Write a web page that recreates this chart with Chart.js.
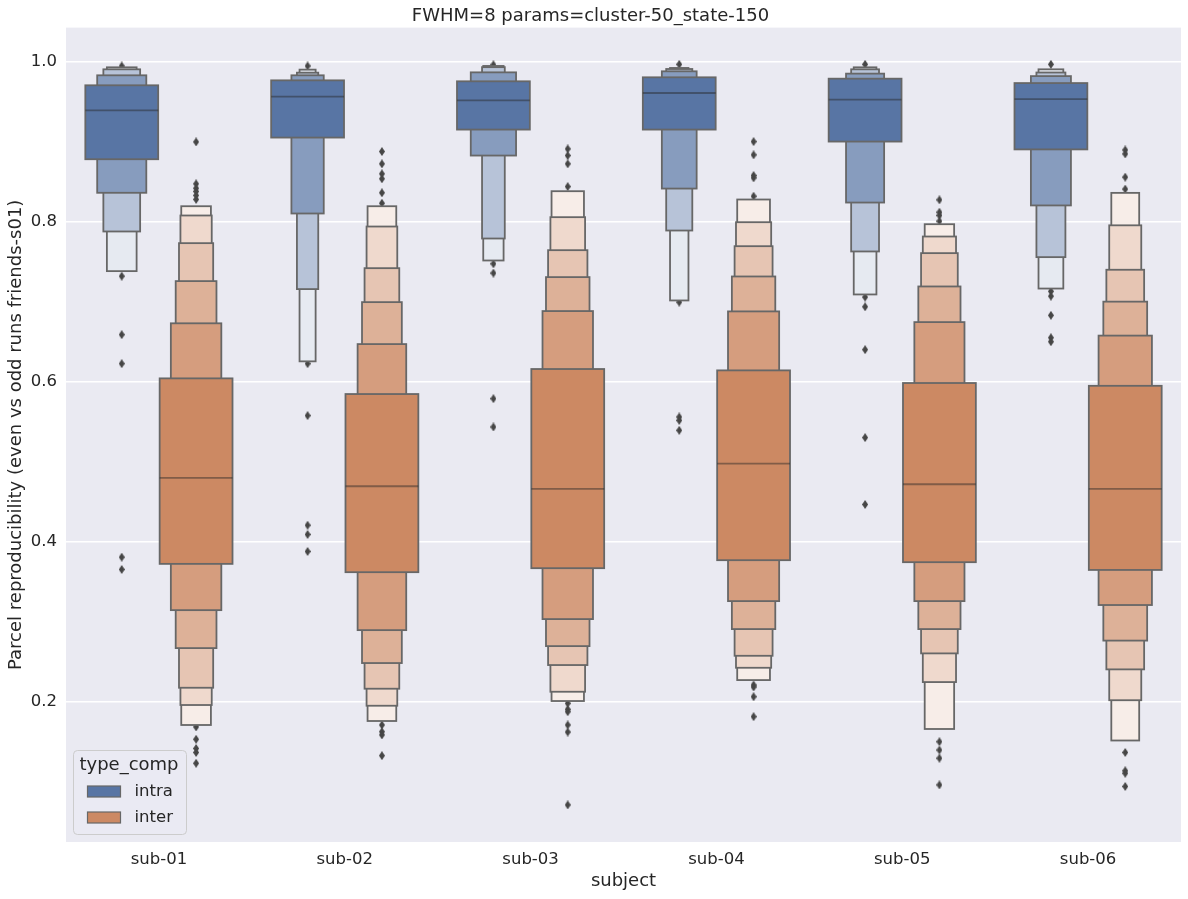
<!DOCTYPE html>
<html>
<head>
<meta charset="utf-8">
<script src="https://cdn.jsdelivr.net/npm/chart.js@4.4.0/dist/chart.umd.min.js"></script>
<style>
  html, body { margin: 0; padding: 0; background: #ffffff; }
</style>
</head>
<body>
<canvas id="chart" width="1188" height="899"></canvas>
<script>
const subjects = ['sub-01', 'sub-02', 'sub-03', 'sub-04', 'sub-05', 'sub-06'];
const hueNames = ['intra', 'inter'];
const yTicks = [0.2, 0.4, 0.6, 0.8, 1.0];

// letter values, innermost box first
const intraMedian = [0.9395, 0.9566, 0.952, 0.9612, 0.9529, 0.9534];
const intraLower = [
  [0.8783, 0.8363, 0.7879, 0.7383],
  [0.9054, 0.8104, 0.7158, 0.6254],
  [0.9154, 0.8829, 0.7791, 0.7516],
  [0.9154, 0.8416, 0.7891, 0.7016],
  [0.9004, 0.8241, 0.7629, 0.7091],
  [0.8906, 0.8205, 0.7558, 0.7165]
];
const intraUpper = [
  [0.9708, 0.9833, 0.9908, 0.9933],
  [0.977, 0.9833, 0.9866, 0.9904],
  [0.9758, 0.987, 0.9935, 0.995],
  [0.9808, 0.9883, 0.9912, 0.9925],
  [0.9791, 0.9854, 0.9908, 0.9933],
  [0.9736, 0.9823, 0.9868, 0.9908]
];
const intraOutliers = [
  [0.995, 0.732, 0.6588, 0.6225, 0.3804, 0.365],
  [0.995, 0.6225, 0.5575, 0.4204, 0.4088, 0.3875],
  [0.9965, 0.7475, 0.7358, 0.5787, 0.5433],
  [0.997, 0.6995, 0.5558, 0.5515, 0.5391],
  [0.997, 0.7058, 0.6937, 0.64, 0.53, 0.4463],
  [0.997, 0.713, 0.707, 0.683, 0.655, 0.65]
];

const interMedian = [0.4795, 0.4691, 0.4658, 0.4975, 0.4716, 0.4659];
const interLower = [
  [0.372, 0.3141, 0.2666, 0.217, 0.1954, 0.1704],
  [0.3616, 0.2891, 0.2479, 0.2158, 0.1945, 0.1754],
  [0.3666, 0.3029, 0.2691, 0.2454, 0.212, 0.2004],
  [0.3766, 0.3254, 0.2904, 0.257, 0.242, 0.2266],
  [0.3741, 0.3254, 0.2904, 0.26, 0.2241, 0.1654],
  [0.3644, 0.3205, 0.276, 0.24, 0.2014, 0.151]
];
const interUpper = [
  [0.6041, 0.673, 0.7258, 0.7733, 0.8079, 0.8195],
  [0.5845, 0.647, 0.6995, 0.742, 0.7941, 0.8195],
  [0.6158, 0.6883, 0.7308, 0.7645, 0.8058, 0.8383],
  [0.6141, 0.6879, 0.7316, 0.7695, 0.7995, 0.8279],
  [0.5983, 0.6745, 0.7191, 0.7608, 0.7816, 0.797],
  [0.5948, 0.6576, 0.7001, 0.74, 0.7956, 0.8362]
];
const interOutliers = [
  [0.9, 0.8475, 0.842, 0.838, 0.833, 0.828, 0.168, 0.1525, 0.141, 0.136, 0.1225],
  [0.8879, 0.8725, 0.86, 0.8538, 0.8363, 0.8233, 0.1704, 0.162, 0.158, 0.132],
  [0.8912, 0.8829, 0.8725, 0.8441, 0.1975, 0.19, 0.187, 0.1704, 0.1616, 0.0704],
  [0.9004, 0.8838, 0.8579, 0.855, 0.832, 0.2204, 0.218, 0.2058, 0.1808],
  [0.8275, 0.812, 0.808, 0.8008, 0.1495, 0.1391, 0.1288, 0.0954],
  [0.8899, 0.885, 0.8559, 0.8409, 0.136, 0.1131, 0.11, 0.0935]
];

const HUE_OFFSET = [-0.2, 0.2];
const HUE_WIDTH = 0.392;
const BASE_RGB = [[88, 117, 164], [204, 137, 99]];
const EDGE = '#676767';
const FLIER = '#464646';
const TEXT = '#262626';
const FONT = "'DejaVu Sans', sans-serif";

function tint(rgb, t) {
  return 'rgb(' + rgb.map(c => Math.round(c + (255 - c) * t)).join(',') + ')';
}

// thin diamond marker like matplotlib 'd'
function makeDiamond() {
  const c = document.createElement('canvas');
  c.width = 6;
  c.height = 9;
  const g = c.getContext('2d');
  g.fillStyle = FLIER;
  g.beginPath();
  g.moveTo(3, 0);
  g.lineTo(6, 4.5);
  g.lineTo(3, 9);
  g.lineTo(0, 4.5);
  g.closePath();
  g.fill();
  return c;
}
const diamond = makeDiamond();

function outlierPoints(list, h) {
  const pts = [];
  list.forEach((vals, i) => {
    vals.forEach(v => pts.push({ x: i + HUE_OFFSET[h], y: v }));
  });
  return pts;
}

function drawLetterValues(ctx, xs, ys, center, lower, upper, median, base) {
  const k = lower.length;
  // box widths follow the "area" rule, outermost box is i = 0
  const raw = [];
  for (let i = 0; i < k; i++) {
    const j = k - 1 - i;
    raw.push((1 - Math.pow(2, -k + i - 2)) / (upper[j] - lower[j]));
  }
  const maxW = Math.max(...raw);
  let innerX0 = 0, innerX1 = 0;
  for (let i = 0; i < k; i++) {
    const j = k - 1 - i;
    const half = HUE_WIDTH * raw[i] / maxW / 2;
    const x0 = xs.getPixelForValue(center - half);
    const x1 = xs.getPixelForValue(center + half);
    const y0 = ys.getPixelForValue(upper[j]);
    const y1 = ys.getPixelForValue(lower[j]);
    ctx.fillStyle = k > 1 ? tint(base, 0.85 * j / (k - 1)) : tint(base, 0);
    ctx.fillRect(x0, y0, x1 - x0, y1 - y0);
    ctx.strokeRect(x0, y0, x1 - x0, y1 - y0);
    innerX0 = x0;
    innerX1 = x1;
  }
  const my = ys.getPixelForValue(median);
  ctx.save();
  ctx.strokeStyle = 'rgba(38, 38, 38, 0.45)';
  ctx.beginPath();
  ctx.moveTo(innerX0, my);
  ctx.lineTo(innerX1, my);
  ctx.stroke();
  ctx.restore();
}

const boxenPlugin = {
  id: 'boxen',
  beforeDraw(chart) {
    const { ctx, chartArea: a } = chart;
    ctx.save();
    ctx.fillStyle = '#eaeaf2';
    ctx.fillRect(a.left, a.top, a.right - a.left, a.bottom - a.top);
    ctx.restore();
  },
  afterDatasetsDraw(chart) {
    const { ctx } = chart;
    const xs = chart.scales.x;
    const ys = chart.scales.y;
    ctx.save();
    ctx.strokeStyle = EDGE;
    ctx.lineWidth = 1.8;
    subjects.forEach((s, i) => {
      drawLetterValues(ctx, xs, ys, i + HUE_OFFSET[0], intraLower[i], intraUpper[i], intraMedian[i], BASE_RGB[0]);
      drawLetterValues(ctx, xs, ys, i + HUE_OFFSET[1], interLower[i], interUpper[i], interMedian[i], BASE_RGB[1]);
    });
    ctx.restore();
  },
  afterDraw(chart) {
    // legend inside the axes, lower left
    const { ctx, chartArea: a } = chart;
    const left = a.left + 7.5;
    const top = a.bottom - 91.5;
    const w = 113, h = 84;
    ctx.save();
    ctx.beginPath();
    ctx.roundRect(left, top, w, h, 4);
    ctx.fillStyle = 'rgba(234, 234, 242, 0.8)';
    ctx.fill();
    ctx.strokeStyle = '#cccccc';
    ctx.lineWidth = 1;
    ctx.stroke();
    ctx.fillStyle = TEXT;
    ctx.textBaseline = 'middle';
    ctx.textAlign = 'center';
    ctx.font = '18px ' + FONT;
    ctx.fillText('type_comp', left + w / 2 - 1, top + 15);
    ctx.textAlign = 'left';
    ctx.font = '16.5px ' + FONT;
    hueNames.forEach((name, h) => {
      const ry = top + 41 + h * 26;
      ctx.fillStyle = tint(BASE_RGB[h], 0);
      ctx.fillRect(left + 14, ry - 5.5, 33, 11);
      ctx.strokeStyle = EDGE;
      ctx.lineWidth = 1.2;
      ctx.strokeRect(left + 14, ry - 5.5, 33, 11);
      ctx.fillStyle = TEXT;
      ctx.fillText(name, left + 61, ry);
    });
    ctx.restore();
  }
};

new Chart(document.getElementById('chart'), {
  type: 'scatter',
  data: {
    datasets: hueNames.map((name, h) => ({
      label: name,
      data: outlierPoints(h === 0 ? intraOutliers : interOutliers, h),
      pointStyle: diamond,
      pointRadius: 4,
      pointHoverRadius: 4
    }))
  },
  options: {
    responsive: false,
    animation: false,
    devicePixelRatio: 1,
    events: [],
    layout: { padding: { left: 0, right: 7, top: 0, bottom: 0 } },
    plugins: {
      legend: { display: false },
      tooltip: { enabled: false },
      title: {
        display: true,
        text: 'FWHM=8 params=cluster-50_state-150',
        color: TEXT,
        font: { family: FONT, size: 18, weight: 'normal' },
        padding: { top: 6, bottom: 0 }
      }
    },
    scales: {
      x: {
        type: 'linear',
        min: -0.5,
        max: 5.5,
        grid: { display: false },
        border: { display: false },
        afterBuildTicks: (scale) => {
          scale.ticks = subjects.map((s, i) => ({ value: i }));
        },
        afterFit: (scale) => { scale.height = 57; },
        ticks: {
          autoSkip: false,
          maxRotation: 0,
          padding: 0,
          color: TEXT,
          font: { family: FONT, size: 16.5 },
          callback: (v) => subjects[v]
        },
        title: {
          display: true,
          text: 'subject',
          color: TEXT,
          font: { family: FONT, size: 18 },
          padding: { top: 0, bottom: 7 }
        }
      },
      y: {
        min: 0.024,
        max: 1.043,
        grid: { color: '#ffffff', lineWidth: 1.5, drawTicks: false },
        border: { display: false },
        afterBuildTicks: (scale) => {
          scale.ticks = yTicks.map(v => ({ value: v }));
        },
        afterFit: (scale) => { scale.width = 66; },
        ticks: {
          padding: 9,
          color: TEXT,
          font: { family: FONT, size: 16.5 },
          callback: (v) => v.toFixed(1)
        },
        title: {
          display: true,
          text: 'Parcel reproducibility (even vs odd runs friends-s01)',
          color: TEXT,
          font: { family: FONT, size: 18 },
          padding: { top: 6, bottom: 0 }
        }
      }
    }
  },
  plugins: [boxenPlugin]
});
</script>
</body>
</html>
